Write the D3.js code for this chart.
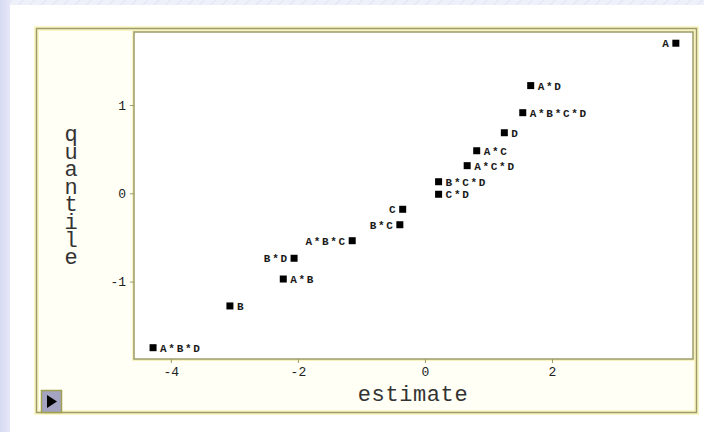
<!DOCTYPE html>
<html>
<head>
<meta charset="utf-8">
<script src="https://cdn.jsdelivr.net/npm/d3@7"></script>
<style>
  html, body { margin: 0; padding: 0; background: #eef0fa; }
  svg { display: block; }
</style>
</head>
<body>
<svg id="chart" width="704" height="432"></svg>
<script>
// ---- data ----
const effects   = ["A", "A*D", "A*B*C*D", "D", "A*C", "A*C*D", "B*C*D", "C*D", "C", "B*C", "A*B*C", "B*D", "A*B", "B", "A*B*D"];
const estimates = [3.95, 1.665, 1.54, 1.25, 0.815, 0.665, 0.215, 0.215, -0.35, -0.395, -1.145, -2.06, -2.23, -3.07, -4.28];
const quantiles = [1.70, 1.22, 0.913, 0.686, 0.482, 0.313, 0.131, -0.011, -0.181, -0.356, -0.537, -0.736, -0.971, -1.276, -1.749];
const labelSide = ["left", "right", "right", "right", "right", "right", "right", "right", "left", "left", "left", "left", "right", "right", "right"];
const xTicks = [-4, -2, 0, 2];
const yTicks = [-1, 0, 1];
const xTitle = "estimate";
const yTitle = "quantile";

const svg = d3.select("#chart");
const W = 704, H = 432;

// background with diagonal hatching
const defs = svg.append("defs");
const pat = defs.append("pattern").attr("id", "hatch").attr("patternUnits", "userSpaceOnUse")
  .attr("width", 8).attr("height", 8).attr("patternTransform", "rotate(45)");
pat.append("rect").attr("width", 8).attr("height", 8).attr("fill", "#eef0fa");
pat.append("line").attr("x1", 0).attr("y1", 0).attr("x2", 0).attr("y2", 8).attr("stroke", "#e2e5f3").attr("stroke-width", 2);
const grad = defs.append("linearGradient").attr("id", "lstrip").attr("x1", 0).attr("x2", 1).attr("y1", 0).attr("y2", 0);
grad.append("stop").attr("offset", "0%").attr("stop-color", "#d6daf2");
grad.append("stop").attr("offset", "100%").attr("stop-color", "#e6e8f8");

svg.append("rect").attr("width", W).attr("height", H).attr("fill", "url(#hatch)");
svg.append("rect").attr("x", 0).attr("y", 0).attr("width", 10).attr("height", H).attr("fill", "url(#lstrip)");
svg.append("rect").attr("x", 10).attr("y", 5).attr("width", W - 10).attr("height", H - 5).attr("fill", "#ffffff");

// outer frame
const frameCol = "#9c9c6a";
svg.append("rect").attr("x", 36.5).attr("y", 28.5).attr("width", 660).attr("height", 384)
  .attr("fill", "#fffff6").attr("stroke", "#fbf6c8").attr("stroke-width", 5);
svg.append("rect").attr("x", 36.5).attr("y", 28.5).attr("width", 660).attr("height", 384)
  .attr("fill", "none").attr("stroke", frameCol).attr("stroke-width", 1.5);

// plot area
const pLeft = 134, pRight = 693, pTop = 32, pBottom = 359;
const x = d3.scaleLinear().domain([-4.58, 4.22]).range([pLeft, pRight]);
const y = d3.scaleLinear().domain([-1.877, 1.827]).range([pBottom, pTop]);

svg.append("rect").attr("x", pLeft).attr("y", pTop).attr("width", pRight - pLeft).attr("height", pBottom - pTop)
  .attr("fill", "#ffffff").attr("stroke", "#f8f2c0").attr("stroke-width", 4);
svg.append("rect").attr("x", pLeft).attr("y", pTop).attr("width", pRight - pLeft).attr("height", pBottom - pTop)
  .attr("fill", "#ffffff").attr("stroke", frameCol).attr("stroke-width", 1.5);

// axes
const xAxis = svg.append("g").attr("transform", `translate(0,${pBottom})`)
  .call(d3.axisBottom(x).tickValues(xTicks).tickSize(4).tickPadding(4).tickFormat(d3.format("d")));
const yAxis = svg.append("g").attr("transform", `translate(${pLeft},0)`)
  .call(d3.axisLeft(y).tickValues(yTicks).tickSize(4).tickPadding(4).tickFormat(d3.format("d")));
[xAxis, yAxis].forEach(g => {
  g.select(".domain").remove();
  g.selectAll(".tick line").attr("stroke", frameCol);
  g.selectAll(".tick text").attr("font-family", "Liberation Mono, monospace").attr("font-size", 13).attr("fill", "#222");
});
xAxis.selectAll(".tick text").text(d => d < 0 ? "-" + Math.abs(d) : d);
yAxis.selectAll(".tick text").text(d => d < 0 ? "-" + Math.abs(d) : d);

// titles
svg.append("text").attr("x", 413).attr("y", 401).attr("text-anchor", "middle")
  .attr("font-family", "Liberation Mono, monospace").attr("font-size", 22).attr("fill", "#333")
  .style("letter-spacing", "0.6px")
  .text(xTitle);
svg.append("text").attr("x", 71).attr("y", 123)
  .style("writing-mode", "vertical-rl").style("text-orientation", "upright")
  .style("letter-spacing", "-7.4px")
  .attr("font-family", "Liberation Mono, monospace").attr("font-size", 22).attr("fill", "#333")
  .text(yTitle);

// points
const pts = effects.map((e, i) => ({ e, v: estimates[i], q: quantiles[i], side: labelSide[i] }));
const sq = 7;
const ls = 1.7;
const g = svg.append("g");
g.selectAll("rect.pt").data(pts).join("rect").attr("class", "pt")
  .attr("x", d => x(d.v) - sq / 2).attr("y", d => y(d.q) - sq / 2)
  .attr("width", sq).attr("height", sq).attr("fill", "#000");
g.selectAll("text.lab").data(pts).join("text").attr("class", "lab")
  .attr("x", d => d.side === "right" ? x(d.v) + 7 : x(d.v) - 7 + ls)
  .attr("y", d => y(d.q) + 4)
  .attr("text-anchor", d => d.side === "right" ? "start" : "end")
  .style("letter-spacing", ls + "px")
  .attr("font-family", "Liberation Mono, monospace").attr("font-size", 11).attr("font-weight", "bold").attr("fill", "#1a1a1a")
  .text(d => d.e);

// small button at bottom-left
svg.append("rect").attr("x", 41.5).attr("y", 390.5).attr("width", 20).attr("height", 22)
  .attr("fill", "#a4a4c2").attr("stroke", "#a0a050").attr("stroke-width", 1.5);
svg.append("path").attr("d", "M47,395 L57,401.5 L47,408 Z").attr("fill", "#000");
</script>
</body>
</html>
